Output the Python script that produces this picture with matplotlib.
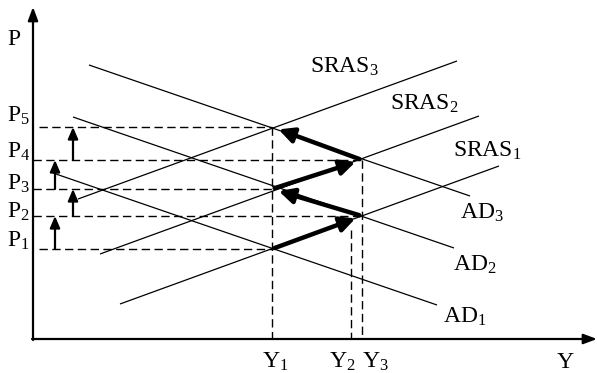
import matplotlib
matplotlib.use("Agg")
import matplotlib.pyplot as plt

plt.rcParams['font.family'] = ['Liberation Serif', 'DejaVu Serif']
plt.rcParams['mathtext.fontset'] = 'custom'
plt.rcParams['mathtext.rm'] = 'Liberation Serif'
plt.rcParams['mathtext.it'] = 'Liberation Serif'
plt.rcParams['mathtext.bf'] = 'Liberation Serif'

# ---- data (diagram units) ----
Y_levels = {'Y1': 272, 'Y2': 351, 'Y3': 362}
P_levels = {'P1': 124, 'P2': 157, 'P3': 184, 'P4': 213, 'P5': 246}

curve_names = ['AD1', 'AD2', 'AD3', 'SRAS1', 'SRAS2', 'SRAS3']
curve_x0 = [53, 73, 89, 120, 100, 78]
curve_y0 = [200, 256, 308, 69, 119, 174]
curve_x1 = [437, 454, 470, 499, 479, 457]
curve_y1 = [68, 125, 177, 207, 257, 312]

path_Y = ['Y1', 'Y3', 'Y1', 'Y3', 'Y1']
path_P = ['P1', 'P2', 'P3', 'P4', 'P5']

fig = plt.figure(figsize=(5.97, 3.73), dpi=100)
ax = fig.add_axes([0, 0, 1, 1])
ax.set_xlim(0, 597)
ax.set_ylim(0, 373)
ax.axis('off')

x_axis_y = 34
y_axis_x = 33

# axes with arrows
ax.annotate('', xy=(597, x_axis_y), xytext=(y_axis_x - 1, x_axis_y),
            arrowprops=dict(arrowstyle='-|>,head_length=0.8,head_width=0.3',
                            lw=1.6, color='black', shrinkA=0, shrinkB=0))
ax.annotate('', xy=(y_axis_x, 366), xytext=(y_axis_x, x_axis_y - 1),
            arrowprops=dict(arrowstyle='-|>,head_length=0.8,head_width=0.3',
                            lw=1.6, color='black', shrinkA=0, shrinkB=0))

# curves
for x0, y0, x1, y1 in zip(curve_x0, curve_y0, curve_x1, curve_y1):
    ax.plot([x0, x1], [y0, y1], color='black', lw=0.9, solid_capstyle='butt')

dash = dict(color='black', lw=1.0, dashes=(6, 3.2))
# horizontal dashed
h_start = {'P1': 39, 'P2': y_axis_x, 'P3': y_axis_x, 'P4': y_axis_x, 'P5': 39}
for yk, pk in zip(path_Y, path_P):
    ax.plot([h_start[pk], Y_levels[yk]], [P_levels[pk], P_levels[pk]], **dash)
# vertical dashed
ax.plot([Y_levels['Y1']] * 2, [P_levels['P5'], x_axis_y], **dash)
ax.plot([Y_levels['Y3']] * 2, [P_levels['P4'], x_axis_y], **dash)
ax.plot([Y_levels['Y2']] * 2, [143, x_axis_y], **dash)

# small vertical arrows on left
small_x = [55, 73, 55, 73]
for i in range(4):
    ax.annotate('', xy=(small_x[i], P_levels[path_P[i + 1]]),
                xytext=(small_x[i], P_levels[path_P[i]]),
                arrowprops=dict(arrowstyle='-|>,head_length=0.7,head_width=0.3',
                                lw=1.6, color='black', shrinkA=0, shrinkB=0))

# thick adjustment arrows
for i in range(4):
    ax.annotate('', xy=(Y_levels[path_Y[i + 1]], P_levels[path_P[i + 1]]),
                xytext=(Y_levels[path_Y[i]], P_levels[path_P[i]]),
                arrowprops=dict(arrowstyle='-|>,head_length=0.9,head_width=0.45',
                                lw=3.2, color='black', shrinkA=2, shrinkB=5))

fs = 17
def lab(x, y, s):
    ax.text(x, y, s, fontsize=fs, ha='left', va='baseline')

lab(7, 328, 'P')
lab(7, 251, r'P$_5$')
lab(7, 215, r'P$_4$')
lab(7, 183, r'P$_3$')
lab(7, 155, r'P$_2$')
lab(7, 126, r'P$_1$')
lab(310, 300, r'SRAS$_3$')
lab(390, 263, r'SRAS$_2$')
lab(453, 216, r'SRAS$_1$')
lab(460, 154, r'AD$_3$')
lab(453, 102, r'AD$_2$')
lab(443, 50, r'AD$_1$')
lab(262, 5, r'Y$_1$')
lab(329, 5, r'Y$_2$')
lab(362, 5, r'Y$_3$')
lab(557, 5, 'Y')

fig.savefig('out.png', dpi=100)
